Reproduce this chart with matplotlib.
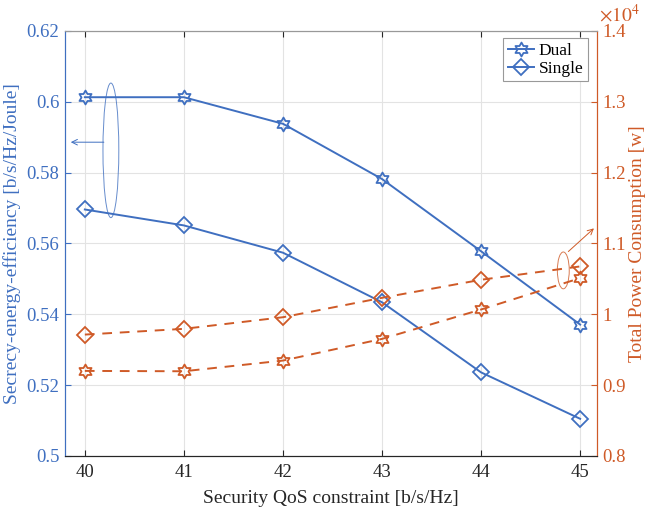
import matplotlib.pyplot as plt
import numpy as np
from matplotlib.path import Path
from matplotlib.patches import Ellipse

# data
qos = [40, 41, 42, 43, 44, 45]
see_dual = [0.6013, 0.6013, 0.5938, 0.5782, 0.5578, 0.5371]
see_single = [0.5696, 0.5651, 0.5574, 0.5434, 0.5236, 0.5105]
power_dual = [9201, 9196, 9347, 9653, 10068, 10511]
power_single = [9714, 9795, 9959, 10233, 10488, 10676]

blue = '#3F6FC0'
red = '#CF5A27'
plt.rcParams['font.family'] = ['Liberation Serif', 'DejaVu Serif']
plt.rcParams['mathtext.fontset'] = 'stix'

# hexagram marker
ang = np.deg2rad(np.arange(12) * 30 + 90)
rad = np.where(np.arange(12) % 2 == 0, 1.0, 1 / np.sqrt(3))
verts = np.column_stack([rad * np.cos(ang), rad * np.sin(ang)])
hexagram = Path(np.vstack([verts, verts[:1]]), closed=True)

fig = plt.figure(figsize=(6.47, 5.08), dpi=100)
ax = fig.add_axes([0.1005, 0.1024, 0.8222, 0.8366])
ax2 = ax.twinx()

ax.plot(qos, see_dual, color=blue, lw=1.4, marker=hexagram, ms=10, mfc='none', mew=1.3, label='Dual')
ax.plot(qos, see_single, color=blue, lw=1.4, marker='D', ms=8, mfc='none', mew=1.3, label='Single')

p_dual = np.array(power_dual) / 1e4
p_single = np.array(power_single) / 1e4
ax2.plot(qos, p_dual, color=red, lw=1.4, ls=(0, (5, 4)), marker=hexagram, ms=10, mfc='none', mew=1.3)
ax2.plot(qos, p_single, color=red, lw=1.4, ls=(0, (5, 4)), marker='D', ms=8, mfc='none', mew=1.3)

ax.set_xlim(39.8, 45.17)
ax.set_ylim(0.5, 0.62)
ax.set_yticks(np.arange(0.5, 0.621, 0.02))
ax.set_yticklabels(['0.5', '0.52', '0.54', '0.56', '0.58', '0.6', '0.62'])
ax2.set_ylim(0.8, 1.4)
ax2.set_yticks(np.arange(0.8, 1.41, 0.1))
ax2.set_yticklabels(['0.8', '0.9', '1', '1.1', '1.2', '1.3', '1.4'])
ax.set_xticks(qos)

ax.grid(True, color='#e3e3e3', lw=0.8)
ax.set_axisbelow(True)

ax.tick_params(axis='x', direction='in', top=True, labelsize=13.5, colors='#262626', length=4, pad=6)
ax.tick_params(axis='y', direction='in', labelsize=13.5, colors=blue, length=4, pad=4)
ax2.tick_params(axis='y', direction='in', labelsize=13.5, colors=red, length=4, pad=4)

for a in (ax, ax2):
    a.spines['top'].set_color('#999999')
    a.spines['bottom'].set_color('#262626')
    a.spines['left'].set_color(blue)
    a.spines['right'].set_color(red)

ax.set_xlabel('Security QoS constraint [b/s/Hz]', fontsize=14, color='#262626', labelpad=6)
ax.set_ylabel('Secrecy-energy-efficiency [b/s/Hz/Joule]', fontsize=14, color=blue, labelpad=4)
ax2.set_ylabel('Total Power Consumption [w]', fontsize=14, color=red, labelpad=2)
fig.text(0.926, 0.958, r'$\times10^4$', color=red, fontsize=14, va='baseline')

# annotations
ax.add_patch(Ellipse((40.263, 0.5863), 0.16, 0.038, fill=False, ec=blue, lw=0.7, alpha=0.8))
ax.annotate('', xy=(39.83, 0.5886), xytext=(40.22, 0.5886),
            arrowprops=dict(arrowstyle='->', color=blue, lw=0.7))
ax2.add_patch(Ellipse((44.83, 1.062), 0.12, 0.052, fill=False, ec=red, lw=0.7, alpha=0.8))
ax2.annotate('', xy=(45.16, 1.124), xytext=(44.86, 1.086),
             arrowprops=dict(arrowstyle='->', color=red, lw=0.7))

leg = ax.legend(loc='upper right', bbox_to_anchor=(0.983, 0.983), borderaxespad=0, fontsize=12.5,
                fancybox=False, edgecolor='#999999', framealpha=1,
                handlelength=1.5, borderpad=0.25, labelspacing=0.1, handletextpad=0.3)
leg.get_frame().set_linewidth(0.8)

fig.savefig('out.png', dpi=100)
